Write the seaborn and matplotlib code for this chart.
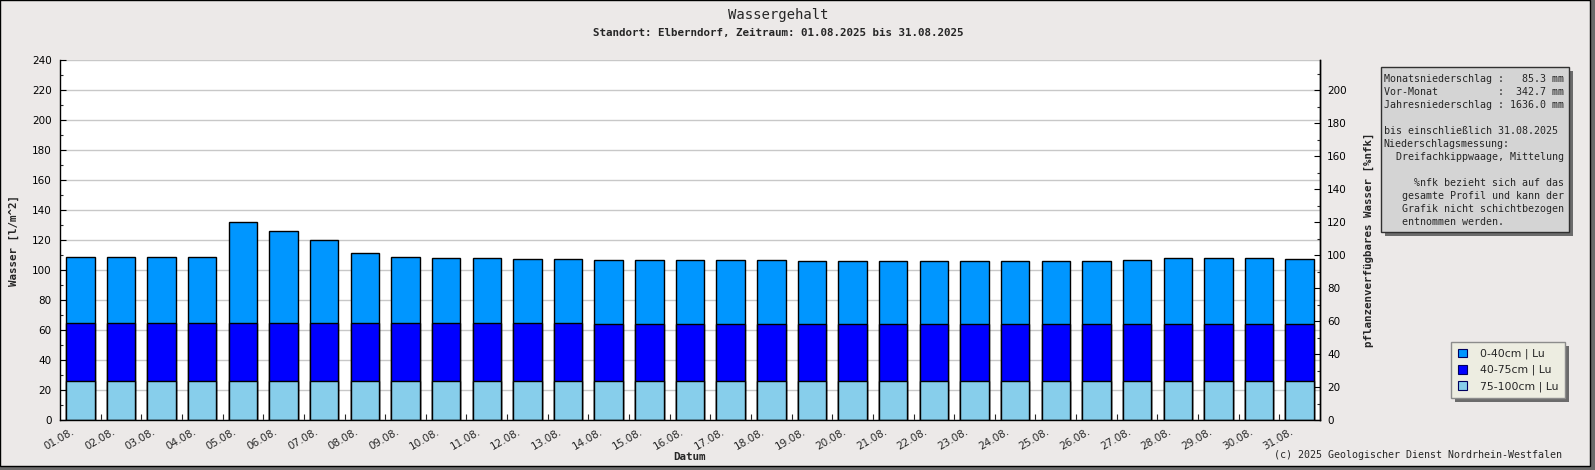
import numpy as np
import pandas as pd
import matplotlib
matplotlib.use("Agg")
import matplotlib.pyplot as plt
import matplotlib.transforms as mtransforms
from matplotlib.patches import Rectangle, Patch
from matplotlib.ticker import MultipleLocator
import seaborn as sns

# daily values, l/m^2 per soil layer
dates = ["01.08.", "02.08.", "03.08.", "04.08.", "05.08.", "06.08.", "07.08.", "08.08.",
         "09.08.", "10.08.", "11.08.", "12.08.", "13.08.", "14.08.", "15.08.", "16.08.",
         "17.08.", "18.08.", "19.08.", "20.08.", "21.08.", "22.08.", "23.08.", "24.08.",
         "25.08.", "26.08.", "27.08.", "28.08.", "29.08.", "30.08.", "31.08."]
w_0_40 = [43.7, 43.7, 43.7, 43.7, 67.1, 61.1, 55.1, 46.4, 43.7, 43.1, 43.1, 42.4, 42.4,
          42.4, 42.4, 42.4, 42.4, 42.4, 41.8, 41.8, 41.8, 41.8, 41.8, 41.8, 41.8, 41.8,
          42.4, 43.8, 43.8, 43.8, 43.1]
w_40_75 = [38.5, 38.5, 38.5, 38.5, 38.5, 38.5, 38.5, 38.5, 38.5, 38.5, 38.5, 38.5, 38.5,
           37.8, 37.8, 37.8, 37.8, 37.8, 37.8, 37.8, 37.8, 37.8, 37.8, 37.8, 37.8, 37.8,
           37.8, 37.8, 37.8, 37.8, 37.8]
w_75_100 = [26.2, 26.2, 26.2, 26.2, 26.2, 26.2, 26.2, 26.2, 26.2, 26.2, 26.2, 26.2, 26.2,
            26.2, 26.2, 26.2, 26.2, 26.2, 26.2, 26.2, 26.2, 26.2, 26.2, 26.2, 26.2, 26.2,
            26.2, 26.2, 26.2, 26.2, 26.2]
layer_labels = ["0-40cm | Lu", "40-75cm | Lu", "75-100cm | Lu"]
layer_colors = ["#0096FF", "#0000FF", "#87CEEB"]

info_lines = [
    "Monatsniederschlag :   85.3 mm",
    "Vor-Monat          :  342.7 mm",
    "Jahresniederschlag : 1636.0 mm",
    "",
    "bis einschließlich 31.08.2025",
    "Niederschlagsmessung:",
    "  Dreifachkippwaage, Mittelung",
    "",
    "     %nfk bezieht sich auf das",
    "   gesamte Profil und kann der",
    "   Grafik nicht schichtbezogen",
    "   entnommen werden.",
]

W, H = 1595, 470
bg = "#ECE9E8"
mono = "DejaVu Sans Mono"

def fx(x):
    return x / W

def fy(y):
    return 1 - y / H

sns.set_style("white")
plt.rcParams["font.family"] = ["DejaVu Sans"]

df = pd.DataFrame({"Datum": dates, "l1": w_0_40, "l2": w_40_75, "l3": w_75_100})
df["bottom"] = df["l3"]
df["mid"] = df["l3"] + df["l2"]
df["top"] = df["l3"] + df["l2"] + df["l1"]

fig = plt.figure(figsize=(W / 100, H / 100), dpi=100)
fig.patch.set_facecolor("#6B6B6B")
fig.patches.append(Rectangle((0, fy(466)), fx(1590), 1 - fy(466), transform=fig.transFigure,
                             facecolor=bg, edgecolor="black", lw=1, zorder=-10))

ax = fig.add_axes([fx(60), fy(420), fx(1320) - fx(60), fy(60) - fy(420)])
ax.set_facecolor("white")

for col, color in zip(["top", "mid", "bottom"], layer_colors):
    sns.barplot(data=df, x="Datum", y=col, color=color, saturation=1, width=0.7,
                edgecolor="black", linewidth=1, errorbar=None, ax=ax, zorder=2)

ax.set_xlim(-0.5, 30.5)
ax.set_ylim(0, 240)
ax.set_xlabel("")
ax.set_ylabel("")
ax.yaxis.set_major_locator(MultipleLocator(20))
ax.yaxis.set_minor_locator(MultipleLocator(10))
ax.set_axisbelow(True)
ax.yaxis.grid(True, which="major", color="#C8C8C8", lw=1)
ax.tick_params(axis="y", which="major", direction="in", length=4.3, width=0.8,
               labelsize=7.5, pad=6, colors="black")
ax.tick_params(axis="y", which="minor", direction="in", length=2.4, width=0.8, left=True)
ax.set_xticks(np.arange(0.5, 30), minor=True)
ax.tick_params(axis="x", which="minor", direction="in", length=4.3, width=0.8, bottom=True)
ax.tick_params(axis="x", which="major", length=0, labelsize=7.5, pad=8)
offset = mtransforms.ScaledTranslation(-0.07, 0, fig.dpi_scale_trans)
for lab in ax.get_xticklabels():
    lab.set_rotation(30)
    lab.set_ha("right")
    lab.set_va("center")
    lab.set_rotation_mode("anchor")
    lab.set_transform(lab.get_transform() + offset)
for s in ["left", "bottom", "right"]:
    ax.spines[s].set_color("black")
    ax.spines[s].set_linewidth(1)
ax.spines["top"].set_visible(False)

# right axis: 110 l/m^2 correspond to 100 %nfk
ax2 = ax.twinx()
ax2.set_ylim(0, 240 * 100 / 110)
ax2.yaxis.set_major_locator(MultipleLocator(20))
ax2.yaxis.set_minor_locator(MultipleLocator(10))
ax2.tick_params(axis="y", which="major", direction="in", length=4.3, width=0.8,
                labelsize=7.5, pad=5, colors="black")
ax2.tick_params(axis="y", which="minor", direction="in", length=2.4, width=0.8, right=True)
for s in ["top", "left", "bottom"]:
    ax2.spines[s].set_visible(False)
ax2.spines["right"].set_color("black")
ax2.spines["right"].set_linewidth(1)

# titles and labels
fig.text(fx(778), fy(15), "Wassergehalt", family=mono, fontsize=10, ha="center", va="center")
fig.text(fx(778), fy(33), "Standort: Elberndorf, Zeitraum: 01.08.2025 bis 31.08.2025",
         family=mono, fontsize=7.8, weight="bold", ha="center", va="center")
fig.text(fx(14), fy(240), "Wasser [l/m^2]", family=mono, fontsize=7.8, weight="bold",
         rotation=90, ha="center", va="center")
fig.text(fx(1369), fy(240), "pflanzenverfügbares Wasser [%nfk]", family=mono, fontsize=7.8,
         weight="bold", rotation=90, ha="center", va="center")
fig.text(fx(690), fy(457), "Datum", family=mono, fontsize=7.8, weight="bold",
         ha="center", va="center")
fig.text(fx(1562), fy(455), "(c) 2025 Geologischer Dienst Nordrhein-Westfalen", family=mono,
         fontsize=7.2, ha="right", va="center")

# info box
fig.patches.append(Rectangle((fx(1385), fy(236)), fx(188), 165 / H, transform=fig.transFigure,
                             facecolor="#6B6B6B", edgecolor="none", zorder=1))
fig.patches.append(Rectangle((fx(1381), fy(232)), fx(188), 165 / H, transform=fig.transFigure,
                             facecolor="#D4D4D4", edgecolor="#303030", lw=1, zorder=2))
fig.text(fx(1383.5), fy(74), "\n".join(info_lines), family=mono, fontsize=7.2,
         ha="left", va="top", linespacing=1.37, zorder=3)

# legend
handles = [Patch(facecolor=c, edgecolor="#000060", lw=0.8) for c in layer_colors]
leg = fig.legend(handles, layer_labels, loc="upper left", bbox_to_anchor=(fx(1451), fy(342)),
                 bbox_transform=fig.transFigure, frameon=True, fancybox=False, framealpha=1,
                 facecolor="#EDEDE1", edgecolor="#8C8C8C", fontsize=7.8, borderpad=0.6,
                 handlelength=0.9, handleheight=0.9, handletextpad=1.2, labelspacing=0.5,
                 borderaxespad=0)
leg.get_frame().set_linewidth(1)
fig.canvas.draw()
bb = leg.get_window_extent()
fig.patches.append(Rectangle(((bb.x0 + 4) / W, (bb.y0 - 4) / H), bb.width / W, bb.height / H,
                             transform=fig.transFigure, facecolor="#6B6B6B",
                             edgecolor="none", zorder=4))

fig.savefig("out.png", dpi=100, facecolor=fig.get_facecolor())
